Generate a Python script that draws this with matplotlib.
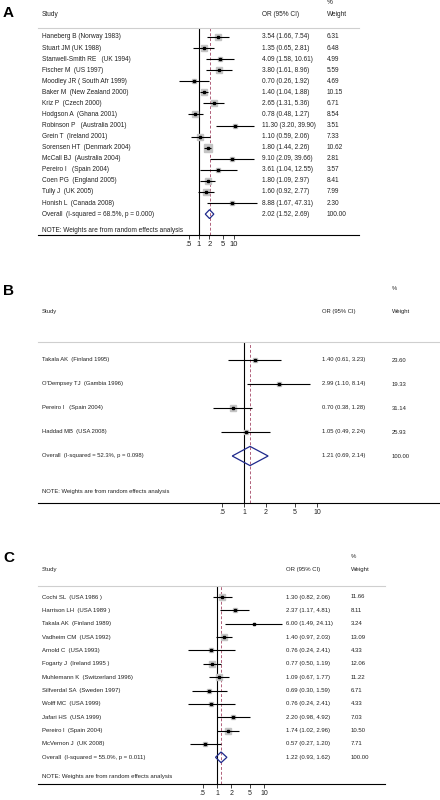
import numpy as np
import matplotlib.pyplot as plt
from matplotlib.transforms import blended_transform_factory

plt.rcParams['font.family'] = ['Liberation Sans', 'DejaVu Sans']

W, H = 440, 800

# панель A
studies_a = ['Haneberg B (Norway 1983)', 'Stuart JM (UK 1988)', 'Stanwell-Smith RE   (UK 1994)',
             'Fischer M  (US 1997)', 'Moodley JR ( South Afr 1999)', 'Baker M  (New Zealand 2000)',
             'Kriz P  (Czech 2000)', 'Hodgson A  (Ghana 2001)', 'Robinson P   (Australia 2001)',
             'Grein T  (Ireland 2001)', 'Sorensen HT  (Denmark 2004)', 'McCall BJ  (Australia 2004)',
             'Pereiro I   (Spain 2004)', 'Coen PG  (England 2005)', 'Tully J  (UK 2005)',
             'Honish L  (Canada 2008)']
or_a = [3.54, 1.35, 4.09, 3.80, 0.70, 1.40, 2.65, 0.78, 11.30, 1.10, 1.80, 9.10, 3.61, 1.80, 1.60, 8.88]
lo_a = [1.66, 0.65, 1.58, 1.61, 0.26, 1.04, 1.31, 0.48, 3.20, 0.59, 1.44, 2.09, 1.04, 1.09, 0.92, 1.67]
hi_a = [7.54, 2.81, 10.61, 8.96, 1.92, 1.88, 5.36, 1.27, 39.90, 2.06, 2.26, 39.66, 12.55, 2.97, 2.77, 47.31]
weight_a = [6.31, 6.48, 4.99, 5.59, 4.69, 10.15, 6.71, 8.54, 3.51, 7.33, 10.62, 2.81, 3.57, 8.41, 7.99, 2.30]
overall_a = 'Overall  (I-squared = 68.5%, p = 0.000)'
pooled_a = [2.02, 1.52, 2.69]

# панель B
studies_b = ['Takala AK  (Finland 1995)', "O'Dempsey TJ  (Gambia 1996)",
             'Pereiro I   (Spain 2004)', 'Haddad MB  (USA 2008)']
or_b = [1.40, 2.99, 0.70, 1.05]
lo_b = [0.61, 1.10, 0.38, 0.49]
hi_b = [3.23, 8.14, 1.28, 2.24]
weight_b = [23.60, 19.33, 31.14, 25.93]
overall_b = 'Overall  (I-squared = 52.3%, p = 0.098)'
pooled_b = [1.21, 0.69, 2.14]

# панель C
studies_c = ['Cochi SL  (USA 1986 )', 'Harrison LH  (USA 1989 )', 'Takala AK  (Finland 1989)',
             'Vadheim CM  (USA 1992)', 'Arnold C  (USA 1993)', 'Fogarty J  (Ireland 1995 )',
             'Muhlemann K  (Switzerland 1996)', 'Silfverdal SA  (Sweden 1997)', 'Wolff MC  (USA 1999)',
             'Jafari HS  (USA 1999)', 'Pereiro I  (Spain 2004)', 'McVernon J  (UK 2008)']
or_c = [1.30, 2.37, 6.00, 1.40, 0.76, 0.77, 1.09, 0.69, 0.76, 2.20, 1.74, 0.57]
lo_c = [0.82, 1.17, 1.49, 0.97, 0.24, 0.50, 0.67, 0.30, 0.24, 0.98, 1.02, 0.27]
hi_c = [2.06, 4.81, 24.11, 2.03, 2.41, 1.19, 1.77, 1.59, 2.41, 4.92, 2.96, 1.20]
weight_c = [11.66, 8.11, 3.24, 13.09, 4.33, 12.06, 11.22, 6.71, 4.33, 7.03, 10.50, 7.71]
overall_c = 'Overall  (I-squared = 55.0%, p = 0.011)'
pooled_c = [1.22, 0.93, 1.62]

ticks = [0.5, 1, 2, 5, 10]
tick_labels = ['.5', '1', '2', '5', '10']
note = 'NOTE: Weights are from random effects analysis'

TXT = '#222222'

fig = plt.figure(figsize=(W / 100, H / 100), dpi=100)


def px_text(x, y, s, **kw):
    fig.text(x / W, 1 - y / H, s, va='center', color=TXT, **kw)


def draw_panel(letter, studies, ors, los, his, weights, overall_label, pooled, lay):
    n = len(studies)
    left, right, top, bottom = lay['left'], lay['right'], lay['top'], lay['bottom']
    ax = fig.add_axes([left / W, 1 - bottom / H, (right - left) / W, (bottom - top) / H])
    ax.set_xscale('log')
    ax.set_xlim(np.exp((left - lay['x1']) / lay['k']), np.exp((right - lay['x1']) / lay['k']))
    row0, step = lay['row0'], lay['step']
    ax.set_ylim((bottom - row0) / step, (top - row0) / step)

    ys = np.arange(n)
    # квадраты по весу
    sides = lay['box'] * np.sqrt(weights) / 1.389
    for y, o, lo, hi, s in zip(ys, ors, los, his, sides):
        ax.plot([o], [y], marker='s', ms=s, color='#c4c4c4', mec='#c4c4c4', zorder=2)
        ax.plot([lo, hi], [y, y], color='black', lw=0.8, zorder=3, solid_capstyle='butt')
        ax.plot([o], [y], marker='s', ms=1.5, color='black', zorder=4)

    ax.axvline(1, color='black', lw=0.8, zorder=1)
    ax.axvline(pooled[0], color='#b0607a', lw=0.7, ls=(0, (3, 2)), zorder=1)

    # ромб
    est, plo, phi = pooled
    h = 0.4
    ax.fill([plo, est, phi, est, plo], [n, n - h, n, n + h, n], fill=False,
            edgecolor='#1f2a8c', lw=0.9, zorder=5)

    ax.set_xticks(ticks)
    ax.set_xticklabels(tick_labels)
    ax.minorticks_off()
    ax.tick_params(axis='x', length=3, width=0.6, pad=1.5, labelsize=lay['tfs'], colors=TXT)
    ax.set_yticks([])
    ax.spines['left'].set_visible(False)
    ax.spines['right'].set_visible(False)
    ax.spines['top'].set_color('#cfcfcf')
    ax.spines['top'].set_linewidth(0.8)
    ax.spines['bottom'].set_linewidth(0.8)
    ax.patch.set_visible(False)

    tr = blended_transform_factory(fig.transFigure, ax.transData)
    fs = lay['fs']
    for y, name, o, lo, hi, w in zip(ys, studies, ors, los, his, weights):
        ax.text(42 / W, y, name, transform=tr, fontsize=fs, va='center', color=TXT)
        ax.text(lay['orx'] / W, y, f'{o:.2f} ({lo:.2f}, {hi:.2f})', transform=tr,
                fontsize=fs, va='center', color=TXT)
        ax.text(lay['wx'] / W, y, f'{w:.2f}', transform=tr, fontsize=fs, va='center', color=TXT)
    ax.text(42 / W, n, overall_label, transform=tr, fontsize=fs, va='center', color=TXT)
    ax.text(lay['orx'] / W, n, f'{est:.2f} ({plo:.2f}, {phi:.2f})', transform=tr,
            fontsize=fs, va='center', color=TXT)
    ax.text(lay['wx'] / W, n, '100.00', transform=tr, fontsize=fs, va='center', color=TXT)
    ax.text(42 / W, lay['note'], note, transform=tr, fontsize=fs, va='center', color=TXT)

    # шапка
    px_text(42, lay['hy'], 'Study', fontsize=fs)
    px_text(lay['orx'], lay['hy'], 'OR (95% CI)', fontsize=fs)
    px_text(lay['wx'], lay['hy'], 'Weight', fontsize=fs)
    px_text(lay['wx'], lay['py'], '%', fontsize=fs)
    fig.text(3 / W, 1 - lay['ly'] / H, letter, fontsize=11, fontweight='bold',
             va='center', ha='left', color='black')


lay_a = dict(left=38, right=359, top=28, bottom=235, x1=199, k=15.0, row0=37, step=11.07,
             note=17.5, hy=15, py=3, ly=13, orx=262, wx=327, fs=4.7, tfs=5.5, box=2.15)
lay_b = dict(left=38, right=440, top=342, bottom=503, x1=244, k=31.7, row0=360, step=24,
             note=5.5, hy=312, py=288, ly=291, orx=322, wx=392, fs=4.2, tfs=5, box=0.9)
lay_c = dict(left=38, right=385, top=586, bottom=784, x1=217, k=20.5, row0=597, step=13.36,
             note=13.47, hy=570, py=556, ly=558, orx=286, wx=351, fs=4.3, tfs=5, box=1.66)

draw_panel('A', studies_a, or_a, lo_a, hi_a, weight_a, overall_a, pooled_a, lay_a)
draw_panel('B', studies_b, or_b, lo_b, hi_b, weight_b, overall_b, pooled_b, lay_b)
draw_panel('C', studies_c, or_c, lo_c, hi_c, weight_c, overall_c, pooled_c, lay_c)

fig.savefig('out.png', dpi=100)
